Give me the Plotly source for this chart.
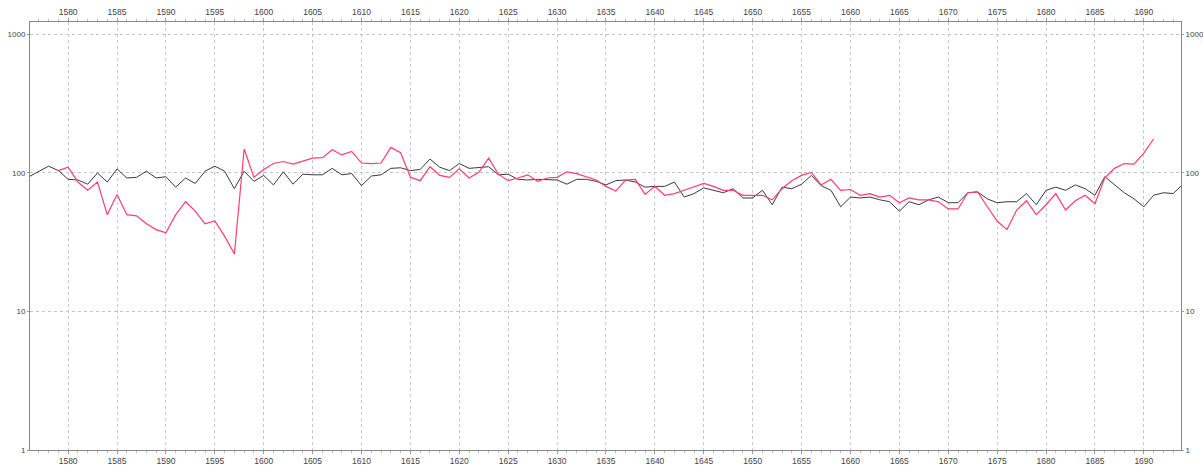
import plotly.graph_objects as go

black_years = list(range(1576, 1695))
black_values = [
    94, 102, 112, 104, 90, 89, 83, 100, 86, 107,   # 1576-1585
    92, 93, 103, 92, 94, 79, 92, 84, 103, 112,     # 1586-1595
    103, 77, 103, 87, 96, 82, 102, 83, 98, 97,     # 1596-1605
    97, 108, 97, 99, 81, 95, 97, 108, 109, 104,    # 1606-1615
    106, 126, 110, 104, 117, 108, 110, 111, 97, 98,  # 1616-1625
    90, 89, 90, 89, 89, 83, 90, 90, 87, 82,        # 1626-1635
    88, 89, 86, 79, 80, 80, 86, 67, 71, 78,        # 1636-1645
    75, 72, 77, 66, 66, 75, 59, 79, 77, 83,        # 1646-1655
    96, 81, 75, 57, 67, 66, 67, 64, 62, 53,        # 1656-1665
    62, 59, 64, 67, 61, 61, 72, 73, 65, 61,        # 1666-1675
    62, 62, 71, 59, 75, 79, 75, 82, 77, 69,        # 1676-1685
    94, 82, 72, 65, 57, 69, 72, 71, 83,            # 1686-1694
]

red_years = list(range(1579, 1692))
red_values = [
    104, 110, 86, 75, 86, 50, 70, 50, 49, 43,      # 1579-1588
    39, 37, 50, 62, 53, 43, 45, 35, 26, 149,       # 1589-1598
    93, 106, 117, 121, 116, 122, 128, 129, 147, 135,  # 1599-1608
    143, 118, 117, 118, 153, 140, 93, 88, 111, 96,  # 1609-1618
    93, 107, 92, 101, 128, 98, 88, 92, 97, 87,     # 1619-1628
    92, 93, 102, 99, 94, 89, 80, 74, 89, 90,       # 1629-1638
    70, 80, 69, 71, 75, 79, 84, 80, 75, 75,        # 1639-1648
    69, 69, 69, 64, 77, 88, 96, 101, 82, 90,       # 1649-1658
    75, 76, 69, 71, 67, 69, 61, 66, 64, 64,        # 1659-1668
    62, 55, 55, 72, 73, 57, 45, 39, 54, 63,        # 1669-1678
    50, 59, 71, 54, 63, 69, 60, 92, 108, 117,      # 1679-1688
    116, 139, 176,                                 # 1689-1691
]

x_ticks = list(range(1580, 1695, 5))
y_ticks = [1, 10, 100, 1000]
y_tick_labels = ["1", "10", "100", "1000"]

x_range = [1576.1, 1693.8]
y_range = [0, 3.09]

fig = go.Figure()
fig.add_trace(go.Scatter(x=black_years, y=black_values, mode="lines",
                         line=dict(color="#3a3a3a", width=1), xaxis="x", yaxis="y",
                         showlegend=False))
fig.add_trace(go.Scatter(x=red_years, y=red_values, mode="lines",
                         line=dict(color="#ff3d6e", width=1.2), xaxis="x2", yaxis="y2",
                         showlegend=False))

font = dict(family="Liberation Sans, Arial", size=8.5, color="#444")
yfont = dict(family="Liberation Sans, Arial", size=8, color="#444")
common_x = dict(range=x_range, tickvals=x_ticks, showline=True, linecolor="#888",
                linewidth=1, ticks="outside", ticklen=3, tickcolor="#999",
                minor=dict(dtick=1, ticks="outside", ticklen=2, tickcolor="#bbb"),
                tickfont=font, zeroline=False, automargin=False)
common_y = dict(type="log", range=y_range, tickvals=y_ticks, ticktext=y_tick_labels,
                showline=True, linecolor="#888", linewidth=1, ticks="outside",
                ticklen=2, tickcolor="#999", tickfont=yfont, zeroline=False,
                automargin=False)

fig.update_layout(
    width=1203, height=465,
    margin=dict(l=30, r=22, t=22, b=15, autoexpand=False),
    paper_bgcolor="white", plot_bgcolor="white",
    xaxis=dict(**common_x, side="bottom", showgrid=True, gridcolor="#c4c4c4",
               griddash="dot", gridwidth=1),
    xaxis2=dict(**common_x, side="top", overlaying="x", showgrid=False),
    yaxis=dict(**common_y, side="left", showgrid=True, gridcolor="#c4c4c4",
               griddash="dot", gridwidth=1),
    yaxis2=dict(**common_y, side="right", overlaying="y", showgrid=False),
)

fig.write_html("out.html", config={"displayModeBar": False},
               post_script="document.body.style.margin='0';")
